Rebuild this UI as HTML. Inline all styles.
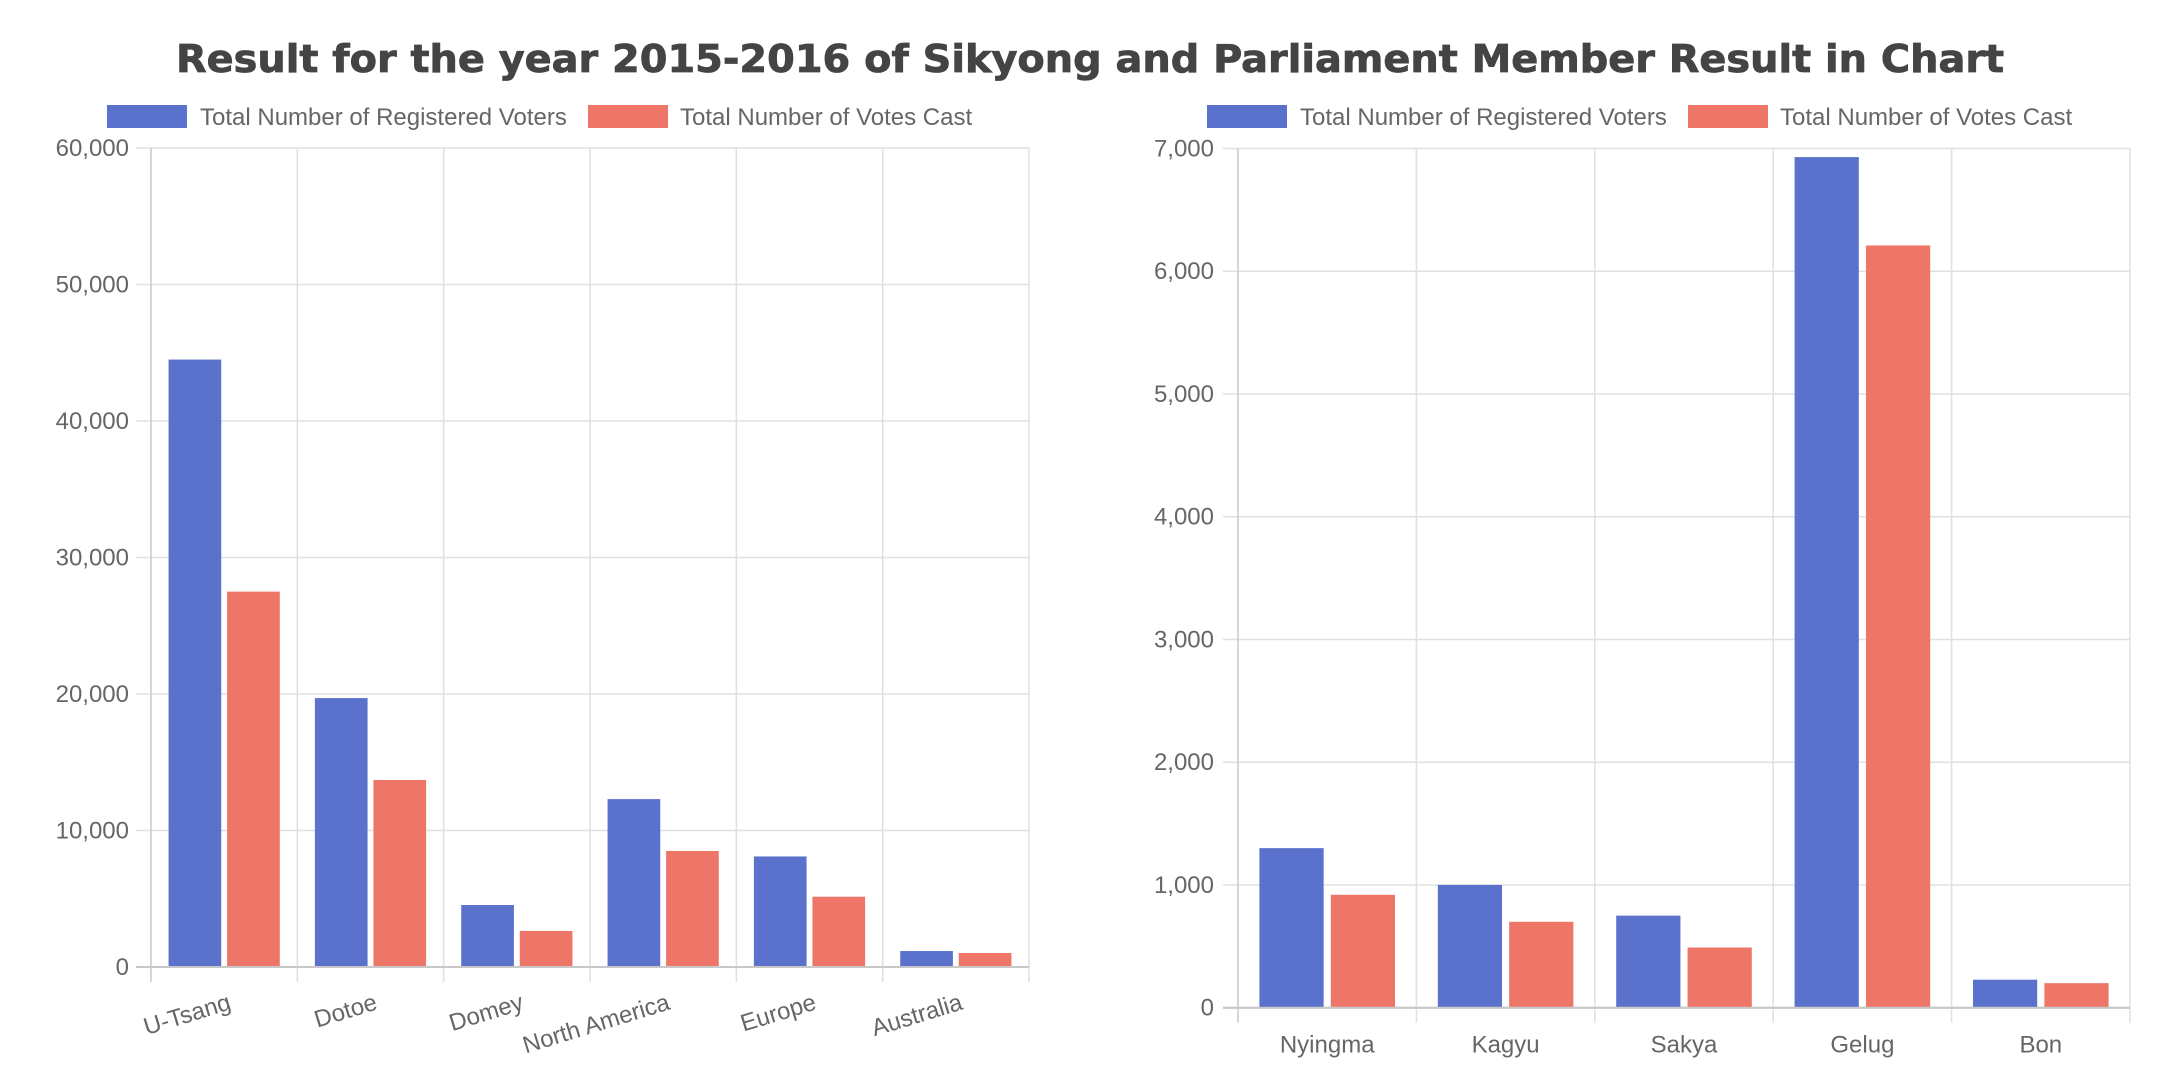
<!DOCTYPE html>
<html><head><meta charset="utf-8"><style>
html,body{margin:0;padding:0;background:#fff;}
svg{display:block;font-family:"Liberation Sans",Arial,sans-serif;}
</style></head><body>
<svg id="svg" width="2176" height="1086" viewBox="0 0 2176 1086">
<text x="1090" y="72" text-anchor="middle" font-family="DejaVu Sans, sans-serif" font-weight="bold" font-size="38" fill="#444" stroke="#444" stroke-width="0.8" textLength="1828" lengthAdjust="spacingAndGlyphs">Result for the year 2015-2016 of Sikyong and Parliament Member Result in Chart</text>
<g id="left"></g>
<g id="right"></g>
</svg>
<script>
const leftCategories = ["U-Tsang","Dotoe","Domey","North America","Europe","Australia"];
const leftRegistered = [44500,19700,4540,12300,8100,1170];
const leftCast = [27500,13700,2640,8500,5150,1025];
const leftTicks = [0,10000,20000,30000,40000,50000,60000];
const leftTickLabels = ["0","10,000","20,000","30,000","40,000","50,000","60,000"];
const rightCategories = ["Nyingma","Kagyu","Sakya","Gelug","Bon"];
const rightRegistered = [1300,1000,750,6930,228];
const rightCast = [920,700,490,6210,200];
const rightTicks = [0,1000,2000,3000,4000,5000,6000,7000];
const rightTickLabels = ["0","1,000","2,000","3,000","4,000","5,000","6,000","7,000"];
const seriesNames = ["Total Number of Registered Voters","Total Number of Votes Cast"];

const NS="http://www.w3.org/2000/svg";
function mk(parent,tag,attrs,text){const e=document.createElementNS(NS,tag);for(const k in attrs)e.setAttribute(k,attrs[k]);if(text!==undefined)e.textContent=text;parent.appendChild(e);return e;}
const BLUE="#5a72cc",RED="#ee7668";
const FS=24;

function drawChart(g,cfg){
  const {x0,x1,top,zero,max,cats,s1,s2,ticks,tickLabels,legendX,labelRight,rotate}=cfg;
  const y=v=>zero-(v/max)*(zero-top);
  const cw=(x1-x0)/cats.length;
  const xc=i=>x0+cw*(i+0.5);
  const lb1=mk(g,'rect',{x:legendX[0],y:105,width:80,height:23,fill:BLUE});
  
  
  const lt1=mk(g,'text',{x:legendX[0]+93,y:125,'font-size':FS,fill:'#666'},seriesNames[0]);
  
  
  const lb2=mk(g,'rect',{x:legendX[1],y:105,width:80,height:23,fill:RED});
  
  
  const lt2=mk(g,'text',{x:legendX[1]+92,y:125,'font-size':FS,fill:'#666'},seriesNames[1]);
  
  
  ticks.forEach((t,i)=>{
    const yy=y(t);
    const l=mk(g,'line',{x1:x0-15,x2:x1,y1:yy,y2:yy,stroke:t===0?'#c8c8c8':'#e0e0e0','stroke-width':t===0?2:1.5});
    
    
    const tx=mk(g,'text',{x:labelRight,y:yy+8,'text-anchor':'end','font-size':FS,fill:'#666'},tickLabels[i]);
    
    
  });
  for(let i=0;i<=cats.length;i++){
    const xx=x0+cw*i;
    const l=mk(g,'line',{x1:xx,x2:xx,y1:top,y2:zero+15,stroke:i===0?'#c8c8c8':'#e0e0e0','stroke-width':1.5});
    
    
  }
  const bw=cw*0.8/2*0.9, slot=cw*0.8/2;
  cats.forEach((c,i)=>{
    const left=xc(i)-cw*0.4;
    const b1=mk(g,'rect',{x:left+(slot-bw)/2,y:y(s1[i]),width:bw,height:zero-y(s1[i]),fill:BLUE});
    
    
    const b2=mk(g,'rect',{x:left+slot+(slot-bw)/2,y:y(s2[i]),width:bw,height:zero-y(s2[i]),fill:RED});
    
    
    let t;
    if(rotate){
      const ax=xc(i)+8, ay=zero+42;
      t=mk(g,'text',{x:ax,y:ay,'text-anchor':'end','font-size':FS,fill:'#666',transform:`rotate(-17 ${ax} ${ay})`},c);
    } else {
      t=mk(g,'text',{x:xc(i),y:zero+45,'text-anchor':'middle','font-size':FS,fill:'#666'},c);
    }
    
    
  });
  mk(g,'line',{x1:x0-15,x2:x1,y1:zero,y2:zero,stroke:'#c8c8c8','stroke-width':2});
}
drawChart(document.getElementById('left'),{x0:151,x1:1029,top:148,zero:967,max:60000,cats:leftCategories,s1:leftRegistered,s2:leftCast,ticks:leftTicks,tickLabels:leftTickLabels,legendX:[107,588],labelRight:129,rotate:true});
drawChart(document.getElementById('right'),{x0:1238,x1:2130,top:148.5,zero:1007.7,max:7000,cats:rightCategories,s1:rightRegistered,s2:rightCast,ticks:rightTicks,tickLabels:rightTickLabels,legendX:[1207,1688],labelRight:1214,rotate:false});
</script>
</body></html>
